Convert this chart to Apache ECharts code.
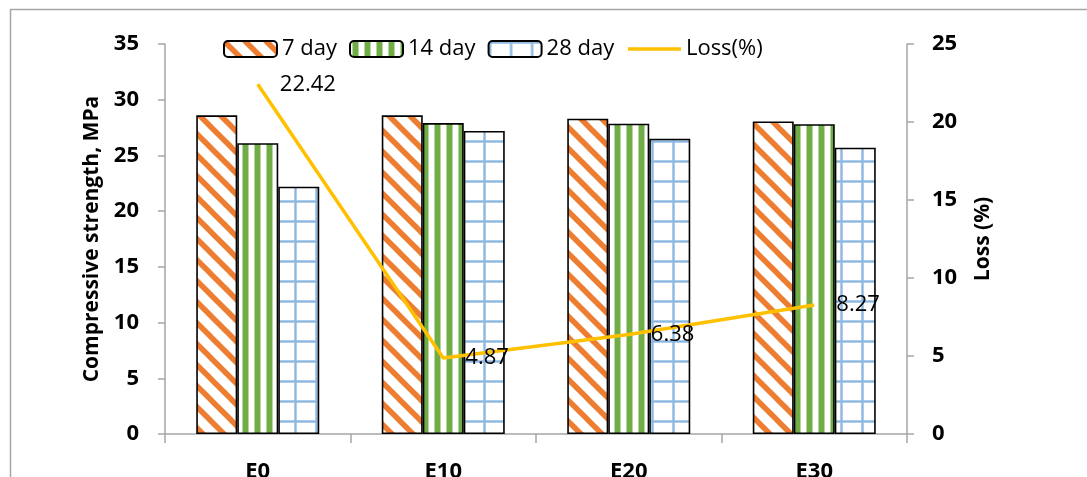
<!DOCTYPE html>
<html>
<head>
<meta charset="utf-8">
<script src="https://cdn.jsdelivr.net/npm/echarts@6/dist/echarts.min.js"></script>
<style>
  html, body { margin: 0; padding: 0; background: #fff; }
  #chart { width: 1087px; height: 477px; }
</style>
</head>
<body>
<div id="chart"></div>
<script>
// Mix designs and measured values
const categories = ['E0', 'E10', 'E20', 'E30'];
const day7 = [28.6, 28.6, 28.3, 28.05];
const day14 = [26.1, 27.9, 27.85, 27.8];
const day28 = [22.2, 27.2, 26.5, 25.7];
const loss = [22.42, 4.87, 6.38, 8.27];

const FONT = '"Open Sans", "Liberation Sans", sans-serif';

// Hatch fills for the bars
function diagonalHatch() {
  const s = 21;
  const c = document.createElement('canvas');
  c.width = s; c.height = s;
  const g = c.getContext('2d');
  g.fillStyle = '#fff';
  g.fillRect(0, 0, s, s);
  g.strokeStyle = '#ED7D31';
  g.lineWidth = 5.5;
  for (let k = -1; k <= 1; k++) {
    g.beginPath();
    g.moveTo(k * s - 2, -2);
    g.lineTo(k * s + s + 2, s + 2);
    g.stroke();
  }
  return c;
}
function verticalHatch() {
  const w = 12, h = 12;
  const c = document.createElement('canvas');
  c.width = w; c.height = h;
  const g = c.getContext('2d');
  g.fillStyle = '#fff';
  g.fillRect(0, 0, w, h);
  g.fillStyle = '#B7D7A0';
  g.fillRect(2, 0, 7, h);
  g.fillStyle = '#70AD47';
  g.fillRect(3, 0, 5, h);
  return c;
}
function gridHatch() {
  const w = 21, h = 20;
  const c = document.createElement('canvas');
  c.width = w; c.height = h;
  const g = c.getContext('2d');
  g.fillStyle = '#fff';
  g.fillRect(0, 0, w, h);
  g.fillStyle = '#D3E4F4';
  g.fillRect(0, 0, 3, h);
  g.fillRect(0, 0, w, 3);
  g.fillStyle = '#8AB6E0';
  g.fillRect(0.5, 0, 2, h);
  g.fillRect(0, 0.5, w, 2);
  return c;
}

const barBorder = { borderColor: '#000', borderWidth: 1.6 };

const chart = echarts.init(document.getElementById('chart'), null, { renderer: 'canvas' });

chart.setOption({
  animation: false,
  backgroundColor: '#fff',
  grid: { left: 165, right: 180, top: 44, bottom: 43, containLabel: false, outerBoundsMode: 'none' },
  legend: {
    left: 218, top: 33,
    itemWidth: 53, itemHeight: 16, itemGap: 12,
    textStyle: { fontFamily: FONT, fontSize: 22, color: '#000' },
    data: ['7 day', '14 day', '28 day',
      { name: 'Loss(%)', itemStyle: { opacity: 0 }, lineStyle: { width: 3.5, color: '#FFC000' } }]
  },
  graphic: [{
    type: 'rect', silent: true, z: -1,
    shape: { x: 10.5, y: 9.5, width: 1200, height: 600 },
    style: { fill: 'none', stroke: '#A6A6A6', lineWidth: 1.5 }
  }],
  xAxis: {
    type: 'category',
    data: categories,
    axisLine: { lineStyle: { color: '#A6A6A6', width: 1.5 } },
    axisTick: { show: true, length: 9, alignWithLabel: false, lineStyle: { color: '#A6A6A6', width: 1.5 } },
    axisLabel: { fontFamily: FONT, fontSize: 22, fontWeight: 'bold', color: '#000', margin: 27 }
  },
  yAxis: [{
    type: 'value', min: 0, max: 35, interval: 5,
    name: 'Compressive strength, MPa', nameLocation: 'middle', nameRotate: 90, nameGap: 60,
    nameTextStyle: { fontFamily: FONT, fontSize: 21, fontWeight: 'bold', color: '#000' },
    axisLine: { show: true, lineStyle: { color: '#A6A6A6', width: 1.5 } },
    axisTick: { show: true, length: 7, lineStyle: { color: '#A6A6A6', width: 1.5 } },
    splitLine: { show: false },
    axisLabel: { fontFamily: FONT, fontSize: 22, fontWeight: 'bold', color: '#000', margin: 26 }
  }, {
    type: 'value', min: 0, max: 25, interval: 5, position: 'right',
    name: 'Loss (%)', nameLocation: 'middle', nameRotate: 90, nameGap: 66,
    nameTextStyle: { fontFamily: FONT, fontSize: 21, fontWeight: 'bold', color: '#000' },
    axisLine: { show: true, lineStyle: { color: '#A6A6A6', width: 1.5 } },
    axisTick: { show: true, length: 7, lineStyle: { color: '#A6A6A6', width: 1.5 } },
    splitLine: { show: false },
    axisLabel: { fontFamily: FONT, fontSize: 22, fontWeight: 'bold', color: '#000', margin: 25 }
  }],
  series: [{
    name: '7 day', type: 'bar', data: day7, barWidth: 41, barGap: '0%',
    itemStyle: Object.assign({ color: { image: diagonalHatch(), repeat: 'repeat' } }, barBorder)
  }, {
    name: '14 day', type: 'bar', data: day14, barWidth: 41, barGap: '0%',
    itemStyle: Object.assign({ color: { image: verticalHatch(), repeat: 'repeat' } }, barBorder)
  }, {
    name: '28 day', type: 'bar', data: day28, barWidth: 41, barGap: '0%',
    itemStyle: Object.assign({ color: { image: gridHatch(), repeat: 'repeat' } }, barBorder)
  }, {
    name: 'Loss(%)', type: 'line', yAxisIndex: 1, data: loss,
    symbol: 'circle', symbolSize: 0.1, showSymbol: true, z: 5,
    lineStyle: { color: '#FFC000', width: 3.5 },
    itemStyle: { color: '#FFC000' },
    label: {
      show: true, position: 'right', distance: 22,
      fontFamily: FONT, fontSize: 22, color: '#000',
      formatter: p => p.value.toFixed(2)
    }
  }]
});
</script>
</body>
</html>
